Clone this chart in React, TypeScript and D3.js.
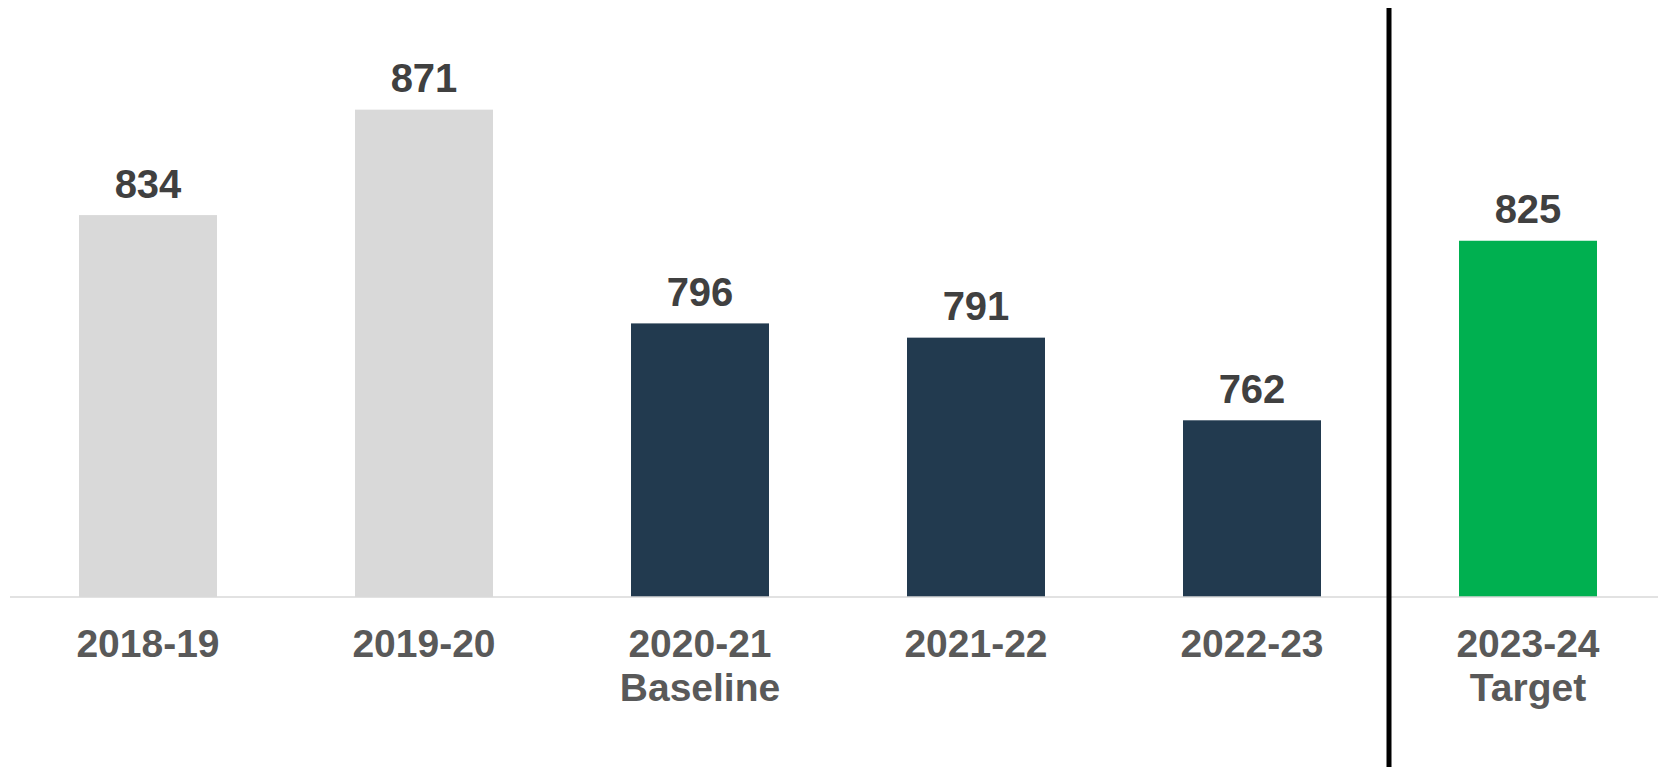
import React from "react";
import * as d3 from "d3";

const categories = ["2018-19", "2019-20", "2020-21", "2021-22", "2022-23", "2023-24"];
const subLabels = ["", "", "Baseline", "", "", "Target"];
const values = [834, 871, 796, 791, 762, 825];
const groups = ["prior", "prior", "actual", "actual", "actual", "target"];

const colorFor: Record<string, string> = {
  prior: "#D9D9D9",
  actual: "#223A4F",
  target: "#00B050",
};

const W = 1658;
const H = 767;

export default function App() {
  const x = d3
    .scaleBand<string>()
    .domain(categories)
    .range([10, 1666])
    .paddingInner(0.5)
    .paddingOuter(0.25);
  const y = d3.scaleLinear().domain([700, 900]).range([597, 27]);
  const bw = x.bandwidth();
  const divX = ((x(categories[4]) as number) + bw + (x(categories[5]) as number)) / 2 - 1;
  const font = "'Liberation Sans', Arial, Helvetica, sans-serif";

  return (
    <svg
      width={W}
      height={H}
      style={{ position: "absolute", left: 0, top: 0, background: "#fff" }}
    >
      {categories.map((c, i) => (
        <rect
          key={c}
          x={x(c)}
          y={y(values[i])}
          width={bw}
          height={y(700) - y(values[i])}
          fill={colorFor[groups[i]]}
        />
      ))}
      <line x1={10} x2={W} y1={597} y2={597} stroke="#D9D9D9" strokeWidth={1.5} />
      <line x1={divX} x2={divX} y1={8} y2={H} stroke="#000" strokeWidth={5} />
      {categories.map((c, i) => (
        <text
          key={"v" + c}
          x={(x(c) as number) + bw / 2}
          y={y(values[i]) - 17.5}
          textAnchor="middle"
          fontFamily={font}
          fontWeight="bold"
          fontSize={40}
          fill="#404040"
        >
          {values[i]}
        </text>
      ))}
      {categories.map((c, i) => (
        <text
          key={"c" + c}
          x={(x(c) as number) + bw / 2}
          textAnchor="middle"
          fontFamily={font}
          fontWeight="bold"
          fontSize={39}
          fill="#595959"
        >
          <tspan x={(x(c) as number) + bw / 2} y={657.3}>
            {c}
          </tspan>
          {subLabels[i] && (
            <tspan x={(x(c) as number) + bw / 2} y={700.7}>
              {subLabels[i]}
            </tspan>
          )}
        </text>
      ))}
    </svg>
  );
}
